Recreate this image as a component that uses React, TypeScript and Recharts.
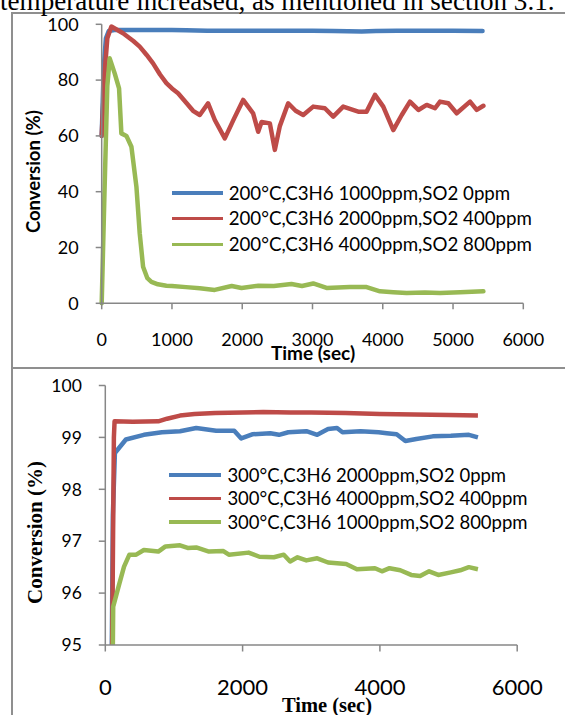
import React from 'react';
import { LineChart, Line, XAxis, YAxis } from 'recharts';

// ---------- Top chart (200°C) ----------
const topXTicks = [0, 1000, 2000, 3000, 4000, 5000, 6000];
const topYTicks = [0, 20, 40, 60, 80, 100];
const topNames = [
  '200°C,C3H6 1000ppm,SO2 0ppm',
  '200°C,C3H6 2000ppm,SO2 400ppm',
  '200°C,C3H6 4000ppm,SO2 800ppm',
];

const topBlueT = [0, 30, 60, 100, 200, 600, 1000, 1200, 1500, 2000, 2500, 3000, 3300, 3500, 3700, 3900, 4200, 4600, 5000, 5420];
const topBlueV = [60, 85, 95, 97.6, 98, 98, 98, 97.9, 97.7, 97.7, 97.7, 97.7, 97.6, 97.5, 97.4, 97.6, 97.7, 97.7, 97.7, 97.6];

const topRedT = [0, 40, 80, 138, 304, 450, 541, 640, 731, 830, 921, 1000, 1087, 1200, 1300, 1396, 1514, 1610, 1752, 1880, 2013, 2155, 2227, 2275, 2393, 2464, 2535, 2654, 2760, 2868, 3010, 3176, 3295, 3437, 3651, 3770, 3889, 4007, 4150, 4270, 4387, 4507, 4625, 4744, 4815, 4933, 5052, 5242, 5337, 5432];
const topRedV = [60, 82, 95, 99.2, 96.8, 94, 92, 89, 86, 82, 78.9, 77, 75.3, 72, 69, 67.5, 71.7, 65.7, 59.1, 66, 72.9, 68.1, 61.5, 65, 64.5, 55, 63.5, 71.7, 69, 67.5, 70.5, 69.9, 66.9, 70.5, 68.7, 68.7, 74.7, 70.5, 62.1, 67.5, 72.3, 69.3, 71.1, 69.9, 72.3, 71.7, 68.1, 72.3, 69.3, 70.8];

const topGreenT = [0, 40, 80, 114, 185, 247, 280, 352, 423, 494, 541, 589, 650, 707, 800, 921, 1000, 1200, 1396, 1608, 1850, 1990, 2230, 2450, 2700, 2850, 3010, 3200, 3530, 3770, 3960, 4150, 4340, 4600, 4815, 5100, 5432];
const topGreenV = [0, 40, 78, 87.8, 82.4, 77, 60.9, 60, 56.1, 41.8, 25.1, 13.1, 9, 7.7, 6.8, 6.3, 6.2, 5.8, 5.4, 4.8, 6.2, 5.5, 6.3, 6.2, 6.9, 6.2, 7.1, 5.5, 5.8, 5.8, 4.3, 4.0, 3.7, 3.9, 3.7, 4.0, 4.3];

// ---------- Bottom chart (300°C) ----------
const botXTicks = [0, 2000, 4000, 6000];
const botYTicks = [95, 96, 97, 98, 99, 100];
const botNames = [
  '300°C,C3H6 2000ppm,SO2 0ppm',
  '300°C,C3H6 4000ppm,SO2 400ppm',
  '300°C,C3H6 1000ppm,SO2 800ppm',
];

const botBlueT = [95, 110, 140, 300, 562, 825, 1088, 1324, 1615, 1878, 1980, 2140, 2403, 2530, 2666, 2929, 3087, 3245, 3376, 3455, 3718, 3981, 4100, 4244, 4371, 4530, 4770, 5033, 5296, 5428];
const botBlueV = [95, 97.5, 98.7, 98.96, 99.05, 99.1, 99.12, 99.18, 99.13, 99.13, 98.98, 99.06, 99.08, 99.05, 99.1, 99.12, 99.05, 99.16, 99.18, 99.1, 99.12, 99.1, 99.08, 99.06, 98.93, 98.97, 99.02, 99.03, 99.05, 99.0];

const botRedT = [100, 125, 135, 400, 772, 900, 1088, 1300, 1600, 2000, 2300, 2700, 3000, 3500, 4000, 4500, 5000, 5428];
const botRedV = [95, 99.0, 99.31, 99.3, 99.31, 99.36, 99.42, 99.45, 99.47, 99.48, 99.49, 99.48, 99.48, 99.47, 99.45, 99.44, 99.43, 99.42];

const botGreenT = [110, 115, 194, 273, 351, 450, 562, 772, 877, 1088, 1200, 1324, 1510, 1720, 1800, 2087, 2245, 2455, 2600, 2692, 2800, 2929, 3087, 3245, 3508, 3665, 3928, 4030, 4140, 4297, 4455, 4586, 4717, 4850, 5033, 5170, 5296, 5428];
const botGreenV = [95, 95.74, 96.13, 96.51, 96.74, 96.74, 96.83, 96.8, 96.9, 96.92, 96.87, 96.88, 96.8, 96.81, 96.74, 96.78, 96.7, 96.69, 96.74, 96.61, 96.69, 96.63, 96.67, 96.59, 96.56, 96.46, 96.48, 96.42, 96.48, 96.44, 96.35, 96.33, 96.42, 96.35, 96.4, 96.44, 96.5, 96.46];

const COLORS = ['#4A7EBB', '#BE4B48', '#98B954'];
const AXIS = '#878787';
const SANS = 'Lato, "Open Sans", sans-serif';
const SERIF = '"Liberation Serif", "Times New Roman", serif';

const zip = (t: number[], v: number[]) => t.map((x, i) => ({ t: x, v: v[i] }));

const topSeries = [zip(topBlueT, topBlueV), zip(topRedT, topRedV), zip(topGreenT, topGreenV)];
const botSeries = [zip(botBlueT, botBlueV), zip(botRedT, botRedV), zip(botGreenT, botGreenV)];

function LegendBox(props: { names: string[]; left: number; top: number; rowH: number; lineW: number; gap: number; fontSize: number }) {
  const { names, left, top, rowH, lineW, gap, fontSize } = props;
  return (
    <div style={{ position: 'absolute', left, top }}>
      {names.map((n, i) => (
        <div key={i} style={{ display: 'flex', alignItems: 'center', height: rowH }}>
          <span style={{ display: 'inline-block', width: lineW, height: 3.5, background: COLORS[i], marginRight: gap }} />
          <span style={{ fontFamily: SANS, fontSize, color: '#000', whiteSpace: 'nowrap', lineHeight: 1 }}>{n}</span>
        </div>
      ))}
    </div>
  );
}

export default function App() {
  return (
    <div style={{ position: 'absolute', left: 0, top: 0, width: 565, height: 715, overflow: 'hidden', background: '#fff' }}>
      {/* frames */}
      <div style={{ position: 'absolute', left: 10.5, top: 12, width: 620, height: 357, border: '2px solid #8f8f8f', boxSizing: 'border-box' }} />
      <div style={{ position: 'absolute', left: 10.5, top: 367, width: 620, height: 420, border: '2px solid #8f8f8f', boxSizing: 'border-box' }} />

      {/* top chart */}
      <div style={{ position: 'absolute', left: 0, top: 0 }}>
        <LineChart width={565} height={368} margin={{ top: 24.3, right: 41.7, bottom: 24.7, left: 41.7 }}>
          <XAxis
            type="number"
            dataKey="t"
            domain={[0, 6000]}
            ticks={topXTicks}
            interval={0}
            height={40}
            axisLine={{ stroke: AXIS, strokeWidth: 1.5 }}
            tickLine={{ stroke: AXIS, strokeWidth: 1.5 }}
            tickSize={6}
            tickMargin={24}
            tick={{ fill: '#000', fontSize: 18, fontFamily: SANS }}
          />
          <YAxis
            type="number"
            domain={[0, 100]}
            ticks={topYTicks}
            interval={0}
            width={60}
            axisLine={{ stroke: AXIS, strokeWidth: 1.5 }}
            tickLine={{ stroke: AXIS, strokeWidth: 1.5 }}
            tickSize={6}
            tickMargin={17}
            tick={{ fill: '#000', fontSize: 18, fontFamily: SANS }}
          />
          {topSeries.map((d, i) => (
            <Line
              key={i}
              data={d}
              dataKey="v"
              name={topNames[i]}
              stroke={COLORS[i]}
              strokeWidth={4.5}
              dot={false}
              type="linear"
              strokeLinejoin="round"
              strokeLinecap="round"
              isAnimationActive={false}
            />
          ))}
        </LineChart>
      </div>
      <LegendBox names={topNames} left={171.7} top={193 - 12.85} rowH={25.7} lineW={51} gap={6} fontSize={18.7} />

      {/* bottom chart */}
      <div style={{ position: 'absolute', left: 0, top: 368 }}>
        <LineChart width={565} height={347} margin={{ top: 17.5, right: 47.8, bottom: 20, left: 45.3 }}>
          <XAxis
            type="number"
            dataKey="t"
            domain={[0, 6000]}
            ticks={botXTicks}
            interval={0}
            height={50}
            axisLine={{ stroke: AXIS, strokeWidth: 1.5 }}
            tickLine={{ stroke: AXIS, strokeWidth: 1.5 }}
            tickSize={6.5}
            tickMargin={28}
            tick={{ fill: '#000', fontSize: 22, fontFamily: SANS }}
          />
          <YAxis
            type="number"
            domain={[95, 100]}
            ticks={botYTicks}
            interval={0}
            allowDataOverflow
            width={60}
            axisLine={{ stroke: AXIS, strokeWidth: 1.5 }}
            tickLine={{ stroke: AXIS, strokeWidth: 1.5 }}
            tickSize={6.5}
            tickMargin={17}
            tick={{ fill: '#000', fontSize: 17.5, fontFamily: SANS }}
          />
          {botSeries.map((d, i) => (
            <Line
              key={i}
              data={d}
              dataKey="v"
              name={botNames[i]}
              stroke={COLORS[i]}
              strokeWidth={4.5}
              dot={false}
              type="linear"
              strokeLinejoin="round"
              isAnimationActive={false}
            />
          ))}
        </LineChart>
      </div>
      <LegendBox names={botNames} left={169.4} top={475 - 11.75} rowH={23.5} lineW={52} gap={6} fontSize={18.5} />

      {/* static texts */}
      <svg width={565} height={715} style={{ position: 'absolute', left: 0, top: 0, pointerEvents: 'none' }}>
        <text x={0} y={9.5} fontFamily={SERIF} fontSize={27.1} fill="#000">
          temperature increased, as mentioned in section 3.1.
        </text>
        <text x={313} y={352} textAnchor="middle" dominantBaseline="central" fontFamily={SANS} fontWeight="bold" fontSize={19} fill="#000">
          Time (sec)
        </text>
        <text
          x={33}
          y={171.7}
          textAnchor="middle"
          dominantBaseline="central"
          fontFamily={SANS}
          fontWeight="bold"
          fontSize={18.5}
          fill="#000"
          transform="rotate(-90 33 171.7)"
        >
          Conversion (%)
        </text>
        <text x={327} y={705} textAnchor="middle" dominantBaseline="central" fontFamily={SERIF} fontWeight="bold" fontSize={20.5} fill="#000">
          Time (sec)
        </text>
        <text
          x={35}
          y={532.5}
          textAnchor="middle"
          dominantBaseline="central"
          fontFamily={SERIF}
          fontWeight="bold"
          fontSize={21}
          fill="#000"
          transform="rotate(-90 35 532.5)"
        >
          Conversion (%)
        </text>
      </svg>
    </div>
  );
}
